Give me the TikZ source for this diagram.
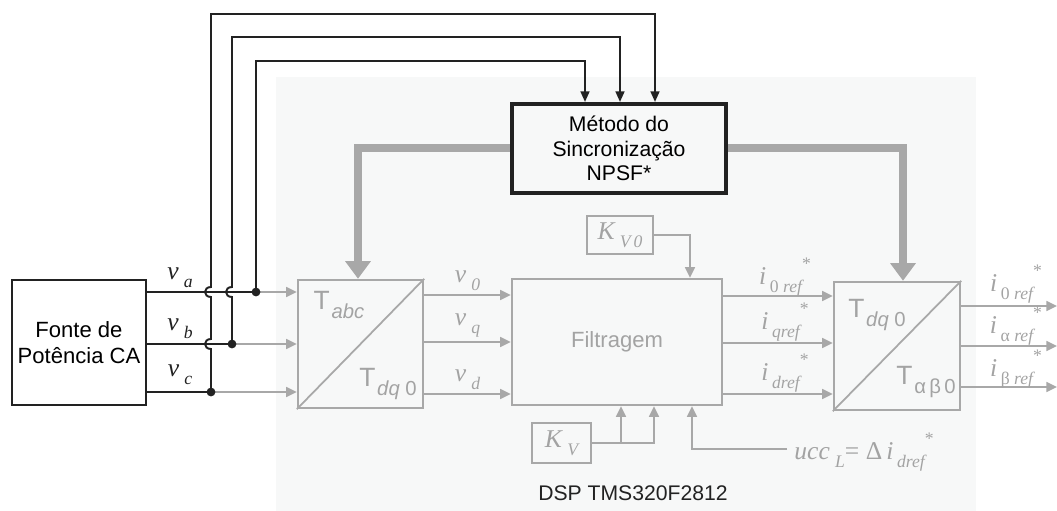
\documentclass[tikz,border=0pt]{standalone}
\usepackage{fontspec}
\setmainfont{Liberation Sans}
\newfontfamily\tms{Liberation Serif}
\usetikzlibrary{arrows.meta,positioning,calc}

\newdimen\px \px=0.5669pt
\definecolor{dspbg}{HTML}{F7F8F8}
\definecolor{dspgray}{HTML}{A8A8A8}
\definecolor{lblgray}{HTML}{A3A3A3}
\definecolor{wirecol}{HTML}{222222}

% italic signal names: base, lowered subscript, optional star
\newcommand{\sig}[2]{{\tms\itshape\fontsize{14.5}{14}\selectfont #1}\hspace{3pt}\raisebox{-4.5pt}{\tms\itshape\fontsize{10}{10}\selectfont #2}}
\newcommand{\sigref}[1]{{\tms\itshape\fontsize{14.5}{14}\selectfont i}\hspace{2pt}\raisebox{-4.5pt}{\tms\itshape\fontsize{10}{10}\selectfont #1}\raisebox{8.5pt}{\tms\fontsize{10}{10}\selectfont *}}
\newcommand{\tlab}[1]{{\fontsize{15}{15}\selectfont T}\hspace{1pt}\raisebox{-5.5pt}{\fontsize{11.5}{11.5}\selectfont #1}}

\begin{document}
\begin{tikzpicture}[
  x=\px, y=-\px,
  box/.style={draw, align=center, inner sep=0pt, font=\fontsize{12.5}{15}\selectfont},
  srcbox/.style={box, draw=wirecol, line width=1.2pt},
  syncbox/.style={box, draw=wirecol, line width=2.3pt},
  dspbox/.style={box, draw=dspgray, line width=1.4pt, text=lblgray},
  bk/.style={draw=wirecol, line width=1.1pt},
  bkarrow/.style={bk, -{Triangle[length=6pt,width=5pt]}},
  gr/.style={draw=dspgray, line width=1.4pt},
  grarrow/.style={gr, -{Triangle[length=6pt,width=5.5pt]}},
  thick arrow/.style={draw=dspgray, line width=4pt, -{Triangle[length=10pt,width=14pt]}},
  lbl/.style={text=lblgray, inner sep=0pt},
  dot/.style={circle, fill=wirecol, inner sep=0pt, minimum size=5pt}
]
\useasboundingbox (0,0) rectangle (1057,511);

% DSP area
\fill[dspbg] (276,77) rectangle (976,511);
\node[font=\fontsize{12}{14}\selectfont, text=wirecol] (dsp) at (633,493) {DSP TMS320F2812};

% blocks
\node[srcbox, minimum width=134\px, minimum height=125\px] (fonte) at (79,342.5) {Fonte de\\Potência CA};
\node[syncbox, minimum width=214\px, minimum height=89\px, font=\fontsize{12}{14}\selectfont] (sync) at (619,148.5) {Método do\\Sincronização\\NPSF*};
\node[dspbox, minimum width=125\px, minimum height=128\px] (tabc) at (360.5,344) {};
\node[dspbox, minimum width=210\px, minimum height=126\px] (filt) at (617,342) {Filtragem};
\node[dspbox, minimum width=66\px, minimum height=38\px] (kv0) at (620,235) {\sig{K}{V\,0}};
\node[dspbox, minimum width=59\px, minimum height=40\px] (kv) at (561.5,443) {\sig{K}{V}};
\node[dspbox, minimum width=126\px, minimum height=128\px] (tdq) at (897,346) {};
\draw[gr, line width=1pt] (tabc.south west) -- (tabc.north east);
\draw[gr, line width=1pt] (tdq.south west) -- (tdq.north east);

\node[lbl] (tabcup) at (339,305) {\tlab{\itshape abc}};
\node[lbl] (tabcdn) at (388,384) {\tlab{\itshape dq\upshape\ 0}};
\node[lbl] (tdqup) at (877,315) {\tlab{\itshape dq\upshape\ 0}};
\node[lbl] (tdqdn) at (926,382) {\tlab{α\,β\,0}};

% three phase wires and their tap points
\coordinate (na) at (256,292);
\coordinate (nb) at (232,344);
\coordinate (nc) at (211,392);
\draw[bk] (fonte.east |- na) -- (na);
\draw[bk] (fonte.east |- nb) -- (nb);
\draw[bk] (fonte.east |- nc) -- (nc);
\node[lbl, text=wirecol] (lva) at (180,278) {\sig{v}{a}};
\node[lbl, text=wirecol] (lvb) at (180,329) {\sig{v}{b}};
\node[lbl, text=wirecol] (lvc) at (180,375) {\sig{v}{c}};
\draw[grarrow] (na) -- (tabc.west |- na);
\draw[grarrow] (nb) -- (tabc.west |- nb);
\draw[grarrow] (nc) -- (tabc.west |- nc);

% feedback to the sync block, hopping over the other phases
\draw[bkarrow] (na) -- (256,61) -| ($(sync.north)+(-34,0)$);
\draw[bkarrow] (nb) -- (232,297) .. controls (224,297) and (224,287) .. (232,287)
  -- (232,37) -| ($(sync.north)+(1,0)$);
\draw[bkarrow] (nc) -- (211,349) .. controls (203,349) and (203,339) .. (211,339)
  -- (211,297) .. controls (203,297) and (203,287) .. (211,287)
  -- (211,14) -| ($(sync.north)+(36,0)$);
\node[dot] (da) at (na) {};
\node[dot] (db) at (nb) {};
\node[dot] (dc) at (nc) {};

% angle to both transforms
\draw[thick arrow] (sync.west |- 0,148) -| (tabc.north -| 358,0);
\draw[thick arrow] (sync.east |- 0,148) -| (tdq.north -| 903,0);

% abc -> dq0 -> filter
\draw[grarrow] (tabc.east |- 0,295) -- node[lbl, above=2pt] (lv0) {\sig{v}{0}} (filt.west |- 0,295);
\draw[grarrow] (tabc.east |- 0,342) -- node[lbl, above=2pt] (lvq) {\sig{v}{q}} (filt.west |- 0,342);
\draw[grarrow] (tabc.east |- 0,394) -- node[lbl, above=2pt] (lvd) {\sig{v}{d}} (filt.west |- 0,394);

% gains and ucc into the filter
\draw[grarrow] (kv0.east) -| (filt.north -| 690,0);
\draw[grarrow] (kv.east) -| (filt.south -| 654,0);
\draw[grarrow] (621,443) -- (filt.south -| 621,0);
\coordinate (ucc) at (787,449);
\draw[grarrow] (ucc) -| (filt.south -| 692,0);
\node[lbl, anchor=west] (lucc) at (794,452) {{\tms\itshape\fontsize{14.5}{14}\selectfont ucc}\hspace{3pt}\raisebox{-4.5pt}{\tms\itshape\fontsize{10}{10}\selectfont L}{\tms\fontsize{14.5}{14}\selectfont= Δ\,}\sigref{dref}};

% filter -> dq0/alpha-beta
\draw[grarrow] (filt.east |- 0,296) -- (tdq.west |- 0,296);
\draw[grarrow] (filt.east |- 0,343) -- (tdq.west |- 0,343);
\draw[grarrow] (filt.east |- 0,394) -- (tdq.west |- 0,394);
\node[lbl] (li0) at (785,277) {\sigref{\upshape 0\itshape\ ref}};
\node[lbl] (liq) at (785,322) {\sigref{qref}};
\node[lbl] (lid) at (785,373) {\sigref{dref}};

% outputs
\coordinate (o0) at (1057,306);
\coordinate (oa) at (1057,346);
\coordinate (ob) at (1057,387);
\draw[grarrow] (tdq.east |- o0) -- (o0);
\draw[grarrow] (tdq.east |- oa) -- (oa);
\draw[grarrow] (tdq.east |- ob) -- (ob);
\node[lbl] (lo0) at (1016,284) {\sigref{\upshape 0\itshape\ ref}};
\node[lbl] (loa) at (1016,326) {\sigref{\upshape α\itshape\ ref}};
\node[lbl] (lob) at (1016,369) {\sigref{\upshape β\itshape\ ref}};
\end{tikzpicture}
\end{document}
